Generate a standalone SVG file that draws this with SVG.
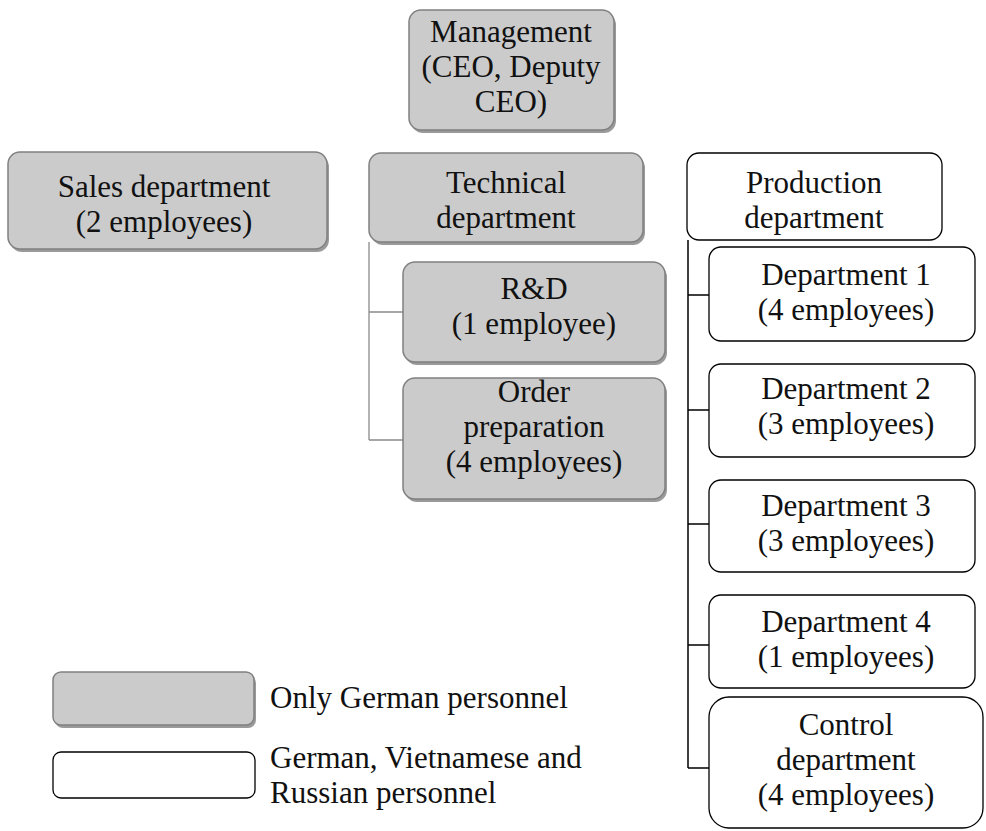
<svg xmlns="http://www.w3.org/2000/svg" width="986" height="831" viewBox="0 0 986 831" font-family="'Liberation Serif', serif" font-size="31">
<style>
.g{fill:#cbcbcb;stroke:#808080;stroke-width:1.5}
.sh{fill:#9a9a9a}
.w{fill:#fff;stroke:#000;stroke-width:1.3}
text{font-family:'Liberation Serif',serif;font-size:31px;fill:#111}
.c{text-anchor:middle}
.cg{fill:none;stroke:#8a8a8a;stroke-width:1.3}
.cb{fill:none;stroke:#000;stroke-width:1.5}
</style>
<rect width="986" height="831" fill="#fff"/>
<g id="connectors">
<path class="cg" d="M369 242 V440 M369 312 H403 M369 440 H403"/>
<path class="cb" d="M688 240 V768 M688 295 H709 M688 410 H709 M688 524 H709 M688 645 H709 M688 768 H709"/>
</g>
<g id="management">
<rect class="sh" x="411" y="13" width="205" height="120" rx="12"/>
<rect class="g" x="409" y="10" width="205" height="120" rx="12"/>
<text class="c" x="511" y="42">Management</text>
<text class="c" x="511" y="77">(CEO, Deputy</text>
<text class="c" x="511" y="112">CEO)</text>
</g>
<g id="sales">
<rect class="sh" x="10" y="155" width="319" height="97" rx="12"/>
<rect class="g" x="8" y="152" width="319" height="97" rx="12"/>
<text class="c" x="164" y="197">Sales department</text>
<text class="c" x="164" y="232">(2 employees)</text>
</g>
<g id="technical">
<rect class="sh" x="371" y="156" width="274" height="89" rx="12"/>
<rect class="g" x="369" y="153" width="274" height="89" rx="12"/>
<text class="c" x="506" y="193">Technical</text>
<text class="c" x="506" y="228">department</text>
</g>
<g id="rnd">
<rect class="sh" x="405" y="265" width="262" height="100" rx="12"/>
<rect class="g" x="403" y="262" width="262" height="100" rx="12"/>
<text class="c" x="534" y="299">R&amp;D</text>
<text class="c" x="534" y="334">(1 employee)</text>
</g>
<g id="order">
<rect class="sh" x="405" y="381" width="262" height="121" rx="12"/>
<rect class="g" x="403" y="378" width="262" height="121" rx="12"/>
<text class="c" x="534" y="402">Order</text>
<text class="c" x="534" y="437">preparation</text>
<text class="c" x="534" y="472">(4 employees)</text>
</g>
<g id="production">
<rect class="w" x="687" y="153" width="255" height="87" rx="12"/>
<text class="c" x="814" y="193">Production</text>
<text class="c" x="814" y="228">department</text>
</g>
<g id="dept1">
<rect class="w" x="709" y="247" width="266" height="94" rx="12"/>
<text class="c" x="846" y="285">Department 1</text>
<text class="c" x="846" y="320">(4 employees)</text>
</g>
<g id="dept2">
<rect class="w" x="709" y="364" width="266" height="93" rx="12"/>
<text class="c" x="846" y="399">Department 2</text>
<text class="c" x="846" y="434">(3 employees)</text>
</g>
<g id="dept3">
<rect class="w" x="709" y="480" width="266" height="92" rx="12"/>
<text class="c" x="846" y="516">Department 3</text>
<text class="c" x="846" y="551">(3 employees)</text>
</g>
<g id="dept4">
<rect class="w" x="709" y="595" width="266" height="93" rx="12"/>
<text class="c" x="846" y="632">Department 4</text>
<text class="c" x="846" y="667">(1 employees)</text>
</g>
<g id="control">
<rect class="w" x="709" y="697" width="274" height="131" rx="20"/>
<text class="c" x="846" y="735">Control</text>
<text class="c" x="846" y="770">department</text>
<text class="c" x="846" y="805">(4 employees)</text>
</g>
<g id="legend">
<rect class="sh" x="55" y="675" width="201" height="53" rx="8"/>
<rect class="g" x="53" y="672" width="201" height="53" rx="8"/>
<text x="270" y="708">Only German personnel</text>
<rect class="w" x="53" y="752" width="202" height="46" rx="8"/>
<text x="270" y="768">German, Vietnamese and</text>
<text x="270" y="803">Russian personnel</text>
</g>
</svg>
